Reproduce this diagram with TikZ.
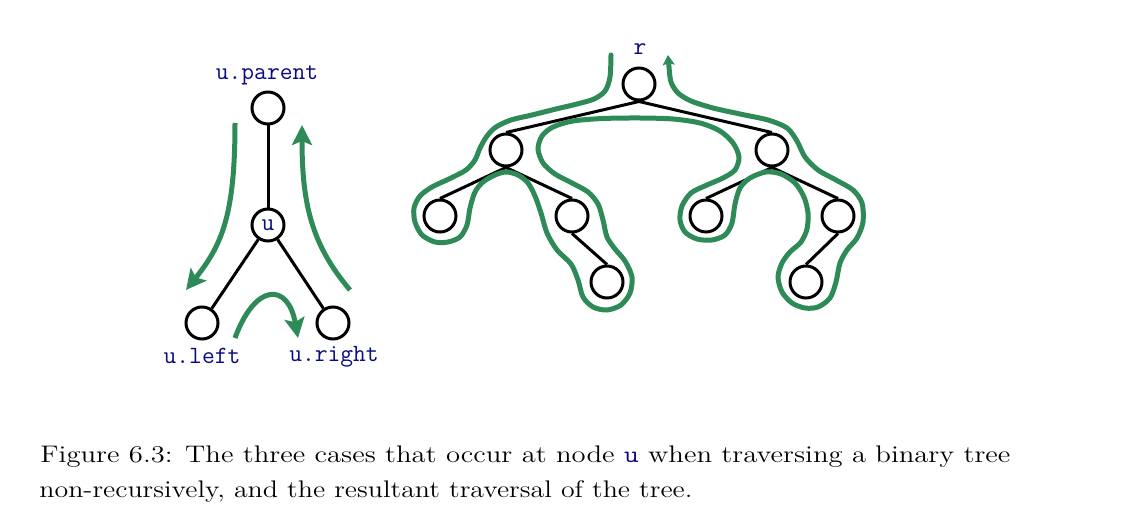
\documentclass[tikz,border=0pt]{standalone}
\usepackage{xcolor}
\usepackage{graphicx}
\usepackage{tikz}
\usetikzlibrary{shapes,arrows.meta}
\definecolor{tourgreen}{RGB}{46,139,87}
\definecolor{lblblue}{RGB}{10,10,130}

\begin{document}
\begin{tikzpicture}[x=0.5pt, y=-0.5pt,
  tnode/.style={circle, draw, line width=1.5pt, minimum size=16pt, inner sep=0pt},
  lbl/.style={text=lblblue, font=\fontsize{12.4}{14}\selectfont\ttfamily, inner sep=0pt, anchor=base},
  tour/.style={tourgreen, line width=2.5pt},
  bigtip/.style={-{Stealth[length=10pt, width=10pt, inset=2pt]}}]
\useasboundingbox (0,0) rectangle (1145,524);
% left: the three cases at u
\node[tnode] (p) at (268,108) {};
\node[tnode, font=\fontsize{12.4}{14}\selectfont\ttfamily, text=lblblue] (u) at (268,225) {u};
\node[tnode] (ul) at (202,323) {};
\node[tnode] (ur) at (333,323) {};
\draw[line width=1.5pt] (p) -- (u);
\draw[line width=1.5pt] (u) -- (ul);
\draw[line width=1.5pt] (u) -- (ur);
\node[lbl] (lp) at (267,80) {u.parent};
\node[lbl] (lul) at (202,363) {u.left};
\node[lbl] (lur) at (334,361) {u.right};
\draw[tour, bigtip] (235,123) .. controls (235,215) and (222,245) .. (186,290);
\draw[tour, bigtip] (350,290) .. controls (312,245) and (302,205) .. (302,125);
\draw[tour, bigtip] (235,338) .. controls (255,283) and (288,282) .. (298,338);
% right: the whole tree
\node[tnode] (r) at (639,84) {};
\node[tnode] (a) at (506,150) {};
\node[tnode] (b) at (772,150) {};
\node[tnode] (aa) at (440,216) {};
\node[tnode] (ab) at (572,216) {};
\node[tnode] (abb) at (607,282) {};
\node[tnode] (ba) at (706,216) {};
\node[tnode] (bb) at (838,216) {};
\node[tnode] (bba) at (806,282) {};
\foreach \s/\t in {r/a, r/b, a/aa, a/ab, ab/abb, b/ba, b/bb, bb/bba}
  \draw[line width=1.5pt] (\s.south) -- (\t.north);
\node[lbl] (lr) at (640,55) {r};
\draw[tour, line cap=round, -{Stealth[length=5pt, width=6pt, inset=1pt]}]
  plot[smooth, tension=0.5] coordinates {
  (611,55) (610,77) (605,91) (594,99) (577,104) (556,109) (532,115)
  (511,120) (496,127) (487,136) (480,148) (475,160) (466,170) (451,178)
  (432,187) (420,196) (414,208) (415,222) (422,235) (435,242) (448,242)
  (460,237) (467,225) (470,208) (475,192) (483,182) (495,175) (506,172)
  (518,175) (528,183) (535,196) (541,213) (547,233) (557,250) (571,264)
  (578,280) (583,297) (593,307) (607,310) (621,305) (630,293) (632,277)
  (625,261) (615,249) (607,237) (603,220) (598,204) (588,192) (572,183)
  (555,174) (543,163) (538,149) (542,136) (553,127) (573,121) (603,118.5)
  (640,118) (673,119) (700,123) (720,131) (733,143) (739,157) (735,170)
  (723,178) (707,185) (691,193) (682,206) (680,220) (685,232) (697,239)
  (712,240) (725,235) (732,223) (735,204) (740,188) (750,178) (766,172)
  (781,174) (795,183) (804,197) (808,213) (807,229) (801,242) (790,252)
  (782,263) (778,277) (782,292) (792,303) (805,308) (818,307) (830,298)
  (836,282) (840,263) (847,250) (857,238) (863,222) (862,203) (853,190)
  (836,180) (818,170) (805,157) (797,141) (787,128) (768,120) (740,114)
  (713,108) (691,101) (678,93) (671,82) (669,67) (668,55)};
% caption
\node[anchor=base west, inner sep=0pt] (cap1) at (40,462) {\resizebox{485pt}{\height}{\fontsize{12}{14}\selectfont
  Figure 6.3: The three cases that occur at node {\color{lblblue}\ttfamily u} when traversing a binary tree}};
\node[anchor=base west, inner sep=0pt] (cap2) at (39,497) {\resizebox{326.5pt}{\height}{\fontsize{12}{14}\selectfont
  non-recursively, and the resultant traversal of the tree.}};
\end{tikzpicture}
\end{document}
